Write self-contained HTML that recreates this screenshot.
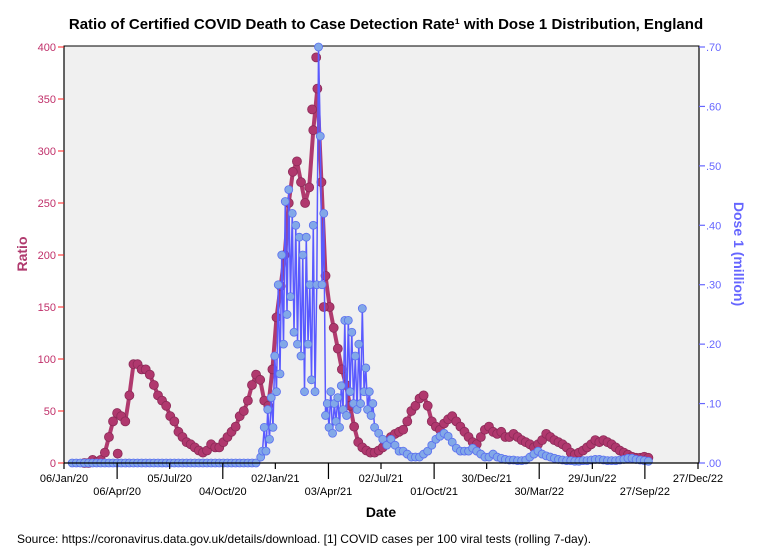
<!DOCTYPE html>
<html><head><meta charset="utf-8"><style>
body{margin:0;background:#fff;font-family:"Liberation Sans",Arial,sans-serif}
svg{display:block}
</style></head><body>
<svg id="chart" width="773" height="560" xmlns="http://www.w3.org/2000/svg">
<text x="386" y="29" text-anchor="middle" font-size="15" font-weight="bold" fill="#000">Ratio of Certified COVID Death to Case Detection Rate¹ with Dose 1 Distribution, England</text>
<rect x="64" y="46" width="635" height="417" fill="#f0f0f0" stroke="#000" stroke-width="1"/>
<text transform="translate(27,254) rotate(-90)" text-anchor="middle" font-size="14" font-weight="bold" fill="#b03a6e">Ratio</text>
<text transform="translate(734,254) rotate(90)" text-anchor="middle" font-size="14" font-weight="bold" fill="#6666ff">Dose 1 (million)</text>
<text x="381" y="517" text-anchor="middle" font-size="14" font-weight="bold" fill="#000">Date</text>
<text x="17" y="543" font-size="12" fill="#000">Source: https://coronavirus.data.gov.uk/details/download. [1] COVID cases per 100 viral tests (rolling 7-day).</text>
</svg>
<script>
const xTickLabels=["06/Jan/20","06/Apr/20","05/Jul/20","04/Oct/20","02/Jan/21","03/Apr/21","02/Jul/21","01/Oct/21","30/Dec/21","30/Mar/22","29/Jun/22","27/Sep/22","27/Dec/22"];
const xTickDays=[0,91,181,272,362,453,543,634,724,814,905,995,1086];
const leftTicks=[0,50,100,150,200,250,300,350,400];
const rightTicks=[0,0.1,0.2,0.3,0.4,0.5,0.6,0.7];
const rightTickLabels=[".00",".10",".20",".30",".40",".50",".60",".70"];
const ratioStartDay=35;
const ratioStepDays=7;
const ratioVals=[0,0,3,1,3,10,25,40,48,45,40,65,95,95,90,90,85,75,65,60,55,45,40,30,25,20,18,15,12,10,12,18,15,15,20,25,30,35,45,50,60,75,85,80,60,55,90,140,170,200,250,280,290,270,250,265,320,360,270,180,150,130,110,90,75,55,35,20,15,12,10,10,12,15,20,25,28,30,32,40,50,55,62,65,55,40,35,32,38,42,45,40,35,30,25,20,18,25,32,35,30,28,30,25,25,28,25,22,20,18,15,18,22,28,25,22,20,18,15,10,8,10,12,15,18,22,20,22,20,18,15,12,10,8,6,5,5,6,5];
const ratioSpikes=[[92,9],[432,390],[425,340],[445,150]];
const doseDays=[14,21,28,35,42,49,56,63,70,77,84,91,98,105,112,119,126,133,140,147,154,161,168,175,182,189,196,203,210,217,224,231,238,245,252,259,266,273,280,287,294,301,308,315,322,329,337,340,343,346,349,352,355,358,361,364,367,370,373,376,379,382,385,388,391,394,397,400,403,406,409,412,415,418,421,424,427,430,433,436,439,442,445,448,451,454,457,460,463,466,469,472,475,478,481,484,487,490,493,496,499,502,505,508,511,514,517,520,523,526,529,532,539,546,553,560,567,574,581,588,595,602,609,616,623,630,637,644,651,658,665,672,679,686,693,700,707,714,721,728,735,742,749,756,763,770,777,784,791,798,805,812,819,826,833,840,847,854,861,868,875,882,889,896,903,910,917,924,931,938,945,952,959,966,973,980,987,994,1001];
const doseVals=[0,0,0,0,0,0,0,0,0,0,0,0,0,0,0,0,0,0,0,0,0,0,0,0,0,0,0,0,0,0,0,0,0,0,0,0,0,0,0,0,0,0,0,0,0,0,0.01,0.02,0.06,0.02,0.09,0.04,0.11,0.06,0.18,0.12,0.30,0.15,0.35,0.20,0.44,0.25,0.46,0.28,0.42,0.22,0.40,0.20,0.38,0.18,0.35,0.12,0.38,0.20,0.30,0.14,0.40,0.12,0.30,0.70,0.55,0.30,0.42,0.08,0.10,0.06,0.12,0.05,0.10,0.07,0.11,0.06,0.13,0.09,0.24,0.08,0.24,0.12,0.22,0.10,0.18,0.09,0.20,0.10,0.26,0.12,0.16,0.09,0.12,0.08,0.10,0.06,0.05,0.04,0.03,0.04,0.03,0.02,0.02,0.015,0.01,0.01,0.01,0.015,0.02,0.03,0.04,0.045,0.05,0.045,0.035,0.025,0.02,0.02,0.02,0.025,0.02,0.015,0.01,0.01,0.015,0.01,0.008,0.006,0.005,0.005,0.004,0.004,0.005,0.01,0.015,0.02,0.015,0.012,0.01,0.008,0.006,0.005,0.004,0.004,0.003,0.003,0.004,0.004,0.005,0.006,0.006,0.005,0.004,0.004,0.004,0.005,0.006,0.008,0.008,0.006,0.005,0.004,0.003];

const NS="http://www.w3.org/2000/svg";
const svg=document.getElementById('chart');
const X0=64,X1=698,YT=47,YB=463;
function xs(d){return X0+(d/1086)*(X1-X0);}
function yl(v){return YB-(v/400)*(YB-YT);}
function yr(v){return YB-(v/0.7)*(YB-YT);}
function mk(tag,attrs,parent){const e=document.createElementNS(NS,tag);for(const k in attrs)e.setAttribute(k,attrs[k]);(parent||svg).appendChild(e);return e;}

const plot=mk('g',{});



let rp=[];
ratioVals.forEach((v,i)=>{rp.push([xs(ratioStartDay+i*ratioStepDays),yl(v)]);});
const rl=mk('polyline',{points:rp.map(p=>p.join(',')).join(' '),fill:'none',stroke:'#b03a6e','stroke-width':4,'stroke-linejoin':'round'},plot);


rp.forEach((p,i)=>{
  const c=mk('circle',{cx:p[0],cy:p[1],r:4.5,fill:'#b0386e',stroke:'#8c2a58','stroke-width':0.8},plot);
  
  
});
ratioSpikes.forEach(s=>{
  const c=mk('circle',{cx:xs(s[0]),cy:yl(s[1]),r:4.5,fill:'#b0386e',stroke:'#8c2a58','stroke-width':0.8},plot);
  
  
});

const dp=doseDays.map((d,i)=>[xs(d),yr(doseVals[i])]);
const dl=mk('polyline',{points:dp.map(p=>p.join(',')).join(' '),fill:'none',stroke:'#5a5aff','stroke-width':1.5},plot);


dp.forEach((p,i)=>{
  const c=mk('circle',{cx:p[0],cy:p[1],r:4,fill:'#82a8e8',stroke:'#5a6ef0','stroke-width':0.8},plot);
  
  
});

const ax=mk('g',{});


mk('line',{x1:X0,y1:YT-1,x2:X0,y2:YB,stroke:'#000','stroke-width':1.2},ax);
mk('line',{x1:X1+1,y1:YT-1,x2:X1+1,y2:YB,stroke:'#000','stroke-width':1.2},ax);
mk('line',{x1:X0,y1:YB,x2:X1+1,y2:YB,stroke:'#000','stroke-width':1.2},ax);
leftTicks.forEach(v=>{
  const y=yl(v);
  mk('line',{x1:X0-6,y1:y,x2:X0,y2:y,stroke:'#ff2020','stroke-width':1},ax);
  const t=mk('text',{x:X0-8,y:y+4,'text-anchor':'end','font-size':11,fill:'#c0306a'},ax);
  t.textContent=v;
  
  
});
rightTicks.forEach((v,i)=>{
  const y=yr(v);
  mk('line',{x1:X1+1,y1:y,x2:X1+7,y2:y,stroke:'#6666ff','stroke-width':1.2},ax);
  const t=mk('text',{x:X1+8,y:y+4,'font-size':11,fill:'#6666ff'},ax);
  t.textContent=rightTickLabels[i];
  
  
});
xTickDays.forEach((d,i)=>{
  const x=xs(d);const low=i%2===1;
  mk('line',{x1:x,y1:YB,x2:x,y2:YB+(low?16:6),stroke:'#000','stroke-width':1.2},ax);
  const t=mk('text',{x:x,y:low?495:482,'text-anchor':'middle','font-size':11,fill:'#000'},ax);
  t.textContent=xTickLabels[i];
  
  
});
</script>
</body></html>
